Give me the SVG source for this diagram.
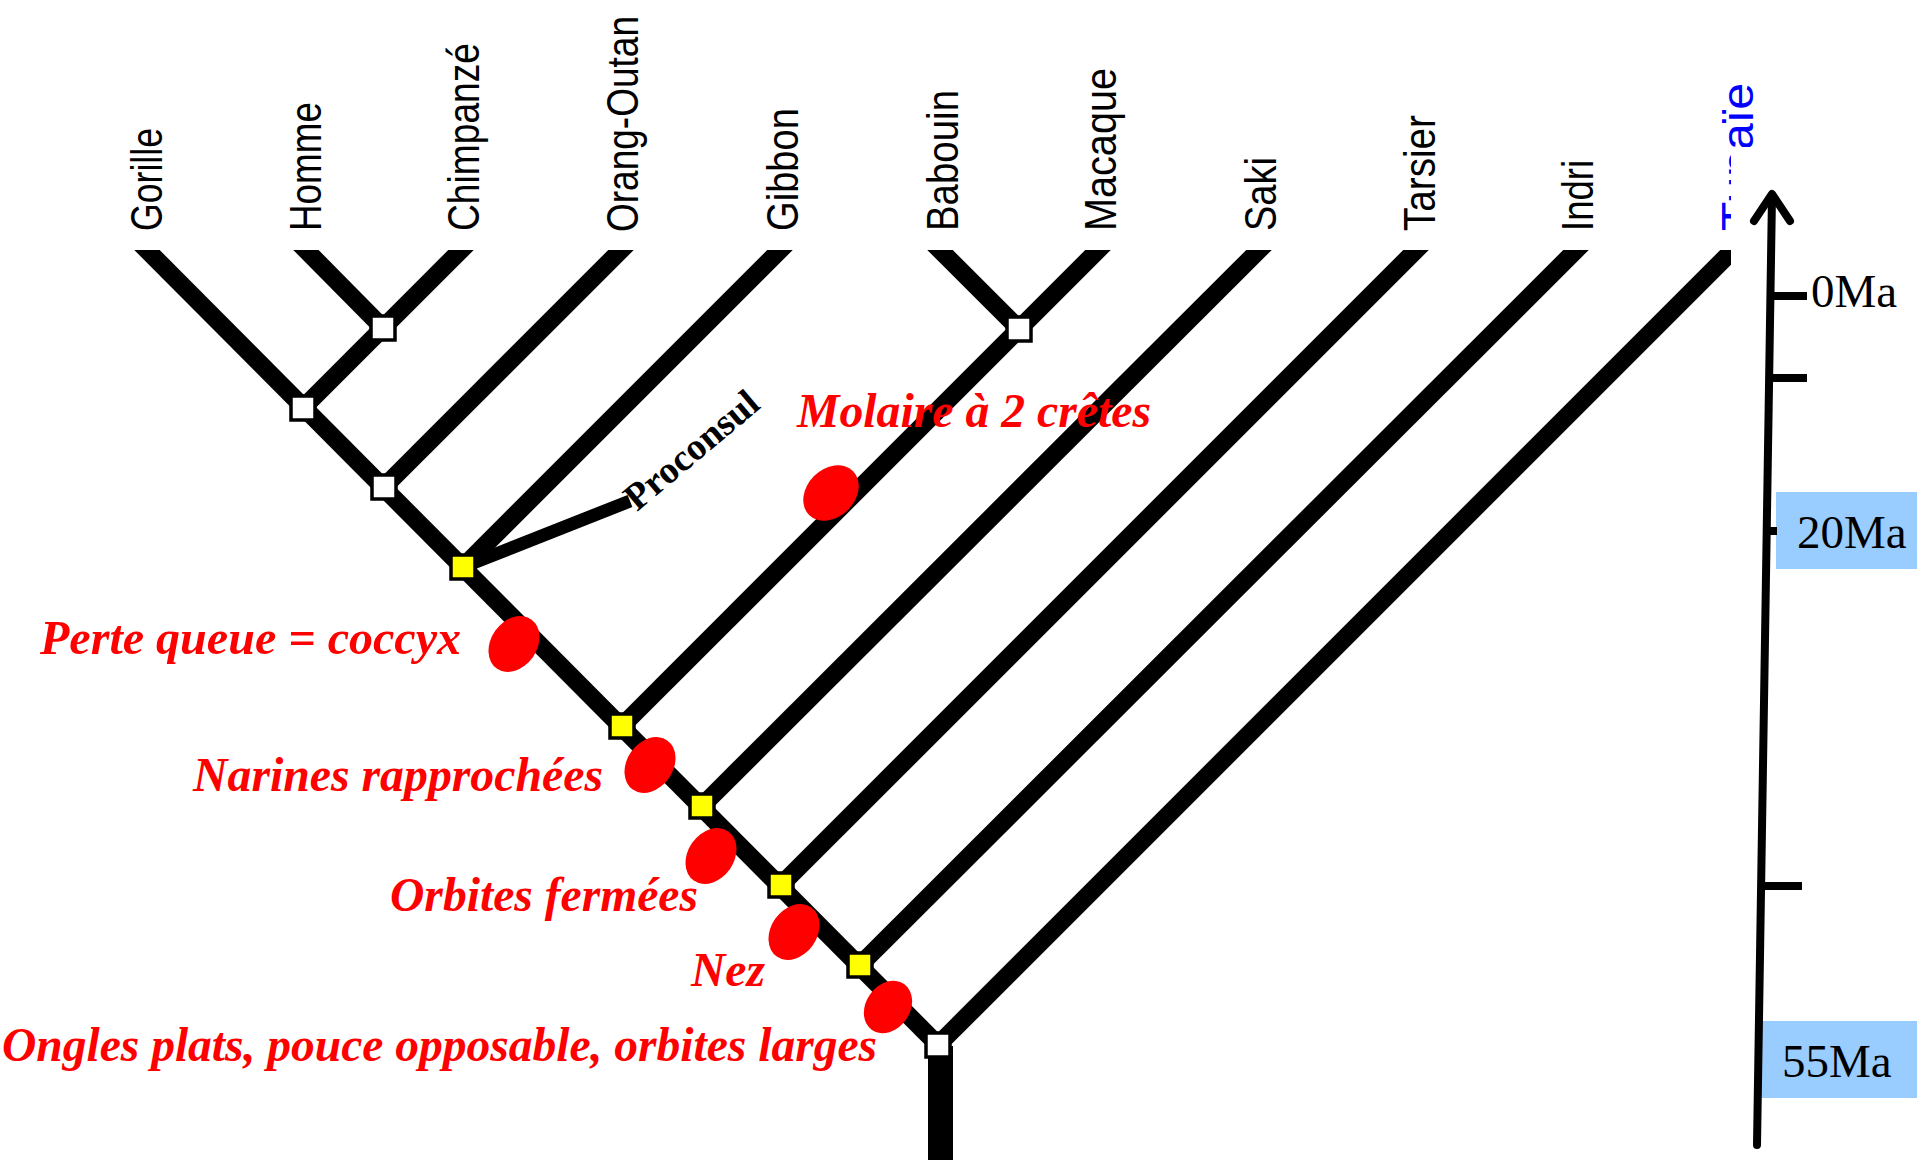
<svg xmlns="http://www.w3.org/2000/svg" width="1917" height="1160" viewBox="0 0 1917 1160">
<style>
.br{stroke:#000;stroke-width:18;fill:none;stroke-linecap:butt}
.nw{fill:#fff;stroke:#000;stroke-width:3.5}
.ny{fill:#ff0;stroke:#000;stroke-width:3.5}
.lab{font-family:"Liberation Sans",Arial,sans-serif;font-size:44px;fill:#000}
.red{font-family:"Liberation Serif","Times New Roman",serif;font-weight:bold;font-style:italic;font-size:48px;fill:#f00}
.ell{fill:#f00}
.ax{stroke:#000;stroke-width:8;fill:none;stroke-linecap:round;stroke-linejoin:round}
.tk{stroke:#000;stroke-width:8}
.ma{font-family:"Liberation Serif","Times New Roman",serif;font-size:47px;fill:#000}
</style>
<defs>
<clipPath id="clipTree"><rect x="0" y="250" width="1731" height="910"/></clipPath>
<clipPath id="clipTup"><rect x="0" y="0" width="1731" height="1160"/><rect x="0" y="0" width="1917" height="147"/></clipPath>
</defs>
<rect width="1917" height="1160" fill="#fff"/>

<g id="connectors">
<g clip-path="url(#clipTree)">
<line class="br" x1="140" y1="243" x2="938" y2="1045"/>
<line class="br" x1="299" y1="243" x2="383" y2="328"/>
<line class="br" x1="468" y1="243" x2="303" y2="408"/>
<line class="br" x1="628" y1="243" x2="384" y2="487"/>
<line class="br" x1="787" y1="243" x2="463" y2="567"/>
<line class="br" x1="933" y1="243" x2="1019" y2="329"/>
<line class="br" x1="1105" y1="243" x2="622" y2="726"/>
<line class="br" x1="1266" y1="243" x2="702" y2="806"/>
<line class="br" x1="1423" y1="243" x2="781" y2="885"/>
<line class="br" x1="1583" y1="243" x2="860" y2="965"/>
<line class="br" x1="1740" y1="243" x2="938" y2="1045"/>
</g>
<rect x="928" y="1046" width="25" height="114" fill="#000"/>
<line x1="463" y1="567" x2="630" y2="501" stroke="#000" stroke-width="13"/>
</g>

<g id="nodes">
<rect id="n-hc" class="nw" x="371" y="316" width="24" height="24"/>
<rect id="n-ghc" class="nw" x="291" y="396" width="24" height="24"/>
<rect id="n-orang" class="nw" x="372" y="475" width="24" height="24"/>
<rect id="n-gibbon" class="ny" x="451" y="555" width="24" height="24"/>
<rect id="n-owm" class="ny" x="610" y="714" width="24" height="24"/>
<rect id="n-bm" class="nw" x="1007" y="317" width="24" height="24"/>
<rect id="n-saki" class="ny" x="690" y="794" width="24" height="24"/>
<rect id="n-tarsier" class="ny" x="769" y="873" width="24" height="24"/>
<rect id="n-indri" class="ny" x="848" y="953" width="24" height="24"/>
<rect id="n-root" class="nw" x="926" y="1033" width="24" height="24"/>
</g>

<g id="traits">
<ellipse class="ell" cx="831" cy="493" rx="31" ry="24" transform="rotate(-45 831 493)"/>
<ellipse class="ell" cx="514" cy="644" rx="30" ry="23" transform="rotate(-55 514 644)"/>
<ellipse class="ell" cx="650" cy="765" rx="30" ry="23" transform="rotate(-55 650 765)"/>
<ellipse class="ell" cx="711" cy="856" rx="30" ry="23" transform="rotate(-55 711 856)"/>
<ellipse class="ell" cx="794" cy="932" rx="30" ry="23" transform="rotate(-55 794 932)"/>
<ellipse class="ell" cx="888" cy="1007" rx="28" ry="22" transform="rotate(-55 888 1007)"/>
<text class="red" x="797" y="427" textLength="354" lengthAdjust="spacingAndGlyphs">Molaire à 2 crêtes</text>
<text class="red" x="40" y="654" textLength="421" lengthAdjust="spacingAndGlyphs">Perte queue = coccyx</text>
<text class="red" x="193" y="791" textLength="410" lengthAdjust="spacingAndGlyphs">Narines rapprochées</text>
<text class="red" x="390" y="911" textLength="308" lengthAdjust="spacingAndGlyphs">Orbites fermées</text>
<text class="red" x="691" y="986" textLength="74" lengthAdjust="spacingAndGlyphs">Nez</text>
<text class="red" x="2" y="1061" textLength="875" lengthAdjust="spacingAndGlyphs">Ongles plats, pouce opposable, orbites larges</text>
</g>

<g id="labels">
<text class="lab" transform="translate(162 231) rotate(-90)" textLength="103" lengthAdjust="spacingAndGlyphs">Gorille</text>
<text class="lab" transform="translate(321 231) rotate(-90)" textLength="129" lengthAdjust="spacingAndGlyphs">Homme</text>
<text class="lab" transform="translate(479 231) rotate(-90)" textLength="188" lengthAdjust="spacingAndGlyphs">Chimpanzé</text>
<text class="lab" transform="translate(638 232) rotate(-90)" textLength="216" lengthAdjust="spacingAndGlyphs">Orang-Outan</text>
<text class="lab" transform="translate(798 231) rotate(-90)" textLength="123" lengthAdjust="spacingAndGlyphs">Gibbon</text>
<text class="lab" transform="translate(958 231) rotate(-90)" textLength="141" lengthAdjust="spacingAndGlyphs">Babouin</text>
<text class="lab" transform="translate(1116 231) rotate(-90)" textLength="163" lengthAdjust="spacingAndGlyphs">Macaque</text>
<text class="lab" transform="translate(1276 231) rotate(-90)" textLength="74" lengthAdjust="spacingAndGlyphs">Saki</text>
<text class="lab" transform="translate(1435 231) rotate(-90)" textLength="116" lengthAdjust="spacingAndGlyphs">Tarsier</text>
<text class="lab" transform="translate(1593 231) rotate(-90)" textLength="71" lengthAdjust="spacingAndGlyphs">Indri</text>
<g clip-path="url(#clipTup)">
<text class="lab" style="fill:#00f" transform="translate(1753 231) rotate(-90)" textLength="148" lengthAdjust="spacingAndGlyphs">Tupaïe</text>
</g>
<text transform="translate(637 512) rotate(-40)" font-family="Liberation Serif, Times New Roman, serif" font-weight="bold" font-size="38" textLength="163" lengthAdjust="spacingAndGlyphs">Proconsul</text>
</g>

<g id="timescale">
<rect x="1776" y="492" width="141" height="77" fill="#99ccff"/>
<rect x="1761" y="1021" width="156" height="77" fill="#99ccff"/>
<line class="tk" x1="1770" y1="296" x2="1807" y2="296"/>
<line class="tk" x1="1769" y1="378" x2="1807" y2="378"/>
<line class="tk" x1="1766" y1="531" x2="1777" y2="531"/>
<line class="tk" x1="1759" y1="886" x2="1802" y2="886"/>
<line class="ax" x1="1757" y1="1145" x2="1772" y2="196"/>
<polyline class="ax" points="1754,221 1772,194 1790,221"/>
<text class="ma" x="1811" y="307" font-size="45">0Ma</text>
<text class="ma" x="1797" y="548">20Ma</text>
<text class="ma" x="1782" y="1077">55Ma</text>
</g>
</svg>
